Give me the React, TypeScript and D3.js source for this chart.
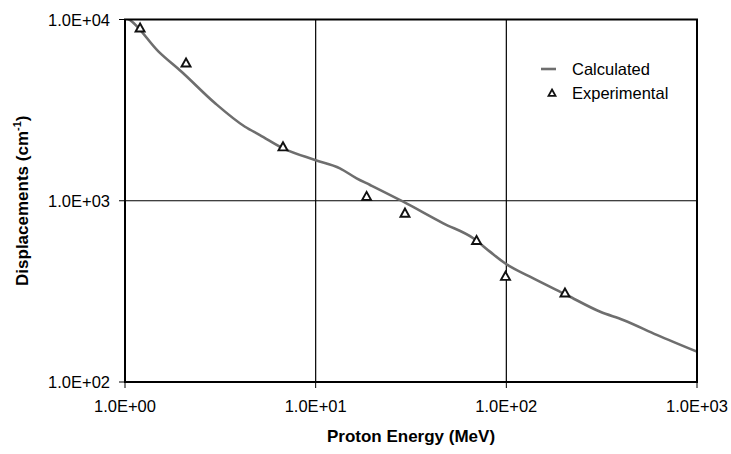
import React from "react";
import * as d3 from "d3";

const calcEnergy = [1, 1.06, 1.5, 1.98, 2.97, 4.26, 5.1, 6.76, 9.92, 13.4, 16.4, 19.3, 28.8, 46.7, 67.1, 82, 98.4, 133, 207, 311, 410, 615, 1000];
const calcDisp = [10300, 9940, 6650, 5150, 3450, 2560, 2305, 1947, 1679, 1510, 1330, 1222, 988, 751, 621, 524, 452, 381, 302, 244, 220, 182, 147];

const expEnergy = [1.2, 2.09, 6.74, 18.5, 29.4, 69.8, 99, 203];
const expDisp = [8980, 5760, 1984, 1057, 855, 604, 383, 310];

const xTicks = [1, 10, 100, 1000];
const yTicks = [100, 1000, 10000];
const xTickLabels = ["1.0E+00", "1.0E+01", "1.0E+02", "1.0E+03"];
const yTickLabels = ["1.0E+02", "1.0E+03", "1.0E+04"];

const W = 731, H = 454;
const L = 125, R = 697, T = 19.5, B = 382;
const FONT = "'Liberation Sans', Arial, sans-serif";

function tri(cx: number, cy: number, s = 4.5) {
  return `M${cx},${cy - s}L${cx + s},${cy + s * 0.8}L${cx - s},${cy + s * 0.8}Z`;
}

export default function App() {
  const x = d3.scaleLog().domain([1, 1000]).range([L, R]);
  const y = d3.scaleLog().domain([100, 10000]).range([B, T]);
  const line = d3
    .line<number>()
    .x((_, i) => x(calcEnergy[i]))
    .y((d) => y(d))
    .curve(d3.curveMonotoneX);
  const calcD = line(calcDisp) || "";

  return (
    <svg width={W} height={H} style={{ position: "absolute", left: 0, top: 0, background: "#fff" }}>
      <defs>
        <clipPath id="clip">
          <rect x={L} y={T} width={R - L} height={B - T} />
        </clipPath>
      </defs>
      {/* grid */}
      {xTicks.slice(1, -1).map((t) => (
        <line key={"gx" + t} x1={x(t)} x2={x(t)} y1={T} y2={B} stroke="#000" strokeWidth={1.2} />
      ))}
      {yTicks.slice(1, -1).map((t) => (
        <line key={"gy" + t} x1={L} x2={R} y1={y(t)} y2={y(t)} stroke="#000" strokeWidth={1.2} />
      ))}
      {/* ticks */}
      {xTicks.map((t, i) => (
        <g key={"xt" + t}>
          <line x1={x(t)} x2={x(t)} y1={B} y2={B + 6} stroke="#000" strokeWidth={1} />
          <text x={x(t)} y={B + 30} textAnchor="middle" fontFamily={FONT} fontSize={16.5} fill="#000">
            {xTickLabels[i]}
          </text>
        </g>
      ))}
      {yTicks.map((t, i) => (
        <g key={"yt" + t}>
          <line x1={L - 6} x2={L} y1={y(t)} y2={y(t)} stroke="#000" strokeWidth={1} />
          <text x={L - 15} y={y(t) + 6} textAnchor="end" fontFamily={FONT} fontSize={16.5} fill="#000">
            {yTickLabels[i]}
          </text>
        </g>
      ))}
      {/* calculated line */}
      <path d={calcD} fill="none" stroke="#6e6e6e" strokeWidth={2.6} clipPath="url(#clip)" />
      {/* experimental */}
      {expEnergy.map((e, i) => (
        <path key={"p" + i} d={tri(x(e), y(expDisp[i]))} fill="#fff" stroke="#111" strokeWidth={1.9} />
      ))}
      {/* frame */}
      <rect x={L} y={T} width={R - L} height={B - T} fill="none" stroke="#000" strokeWidth={2} />
      {/* legend */}
      <line x1={541} x2={556} y1={69} y2={69} stroke="#6e6e6e" strokeWidth={2.6} />
      <text x={572} y={75} fontFamily={FONT} fontSize={16.5} fill="#000">Calculated</text>
      <path d={tri(552, 93, 3.5)} fill="#fff" stroke="#111" strokeWidth={1.8} />
      <text x={572} y={99} fontFamily={FONT} fontSize={16.5} fill="#000">Experimental</text>
      {/* axis titles */}
      <text x={(L + R) / 2} y={442} textAnchor="middle" fontFamily={FONT} fontSize={17} fontWeight="bold" fill="#000">
        Proton Energy (MeV)
      </text>
      <text
        transform={`translate(28, ${(T + B) / 2}) rotate(-90)`}
        textAnchor="middle"
        fontFamily={FONT}
        fontSize={17}
        fontWeight="bold"
        fill="#000"
      >
        Displacements (cm<tspan dy={-7} fontSize={11}>-1</tspan><tspan dy={7}>)</tspan>
      </text>
    </svg>
  );
}
